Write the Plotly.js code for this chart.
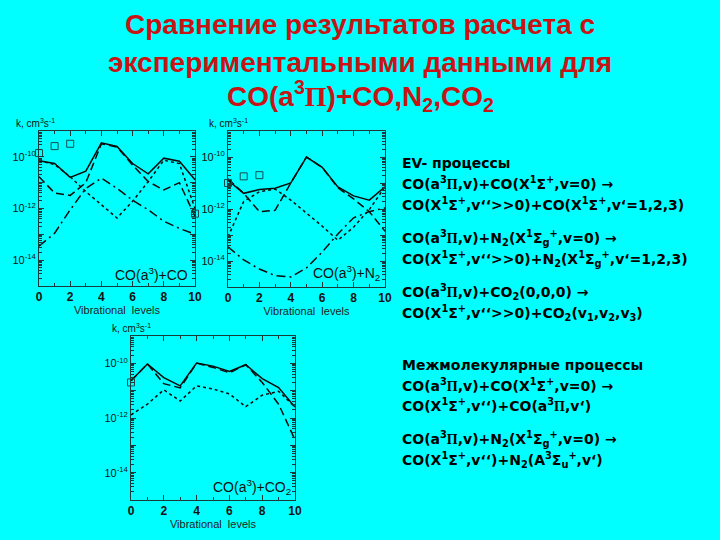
<!DOCTYPE html>
<html><head><meta charset="utf-8">
<script src="https://cdn.plot.ly/plotly-3.0.1.min.js"></script>
<style>html,body{margin:0;padding:0;background:#00ffff}</style>
</head><body><div id="chart" style="width:720px;height:540px"></div>
<script>
// ---- data (rate constants k, cm^3 s^-1 vs vibrational level v) ----
const levels = [0,1,2,3,4,5,6,7,8,9,10];
const expLevels = [0,1,2];

// CO(a3)+CO
const co_total   = [7.1e-11,5.5e-11,1.6e-11,2.8e-11,3.5e-10,2.5e-10,5.5e-11,2.2e-11,8.9e-11,6.8e-11,1.3e-11];
const co_ev      = [7.1e-11,5.0e-11,1.7e-11,4.5e-12,1.4e-12,4.3e-13,1.9e-12,1.1e-11,7.4e-11,5.5e-11,1.0e-12];
const co_inter   = [1.7e-11,4.0e-12,3.2e-12,1.0e-11,3.2e-10,2.4e-10,4.8e-11,1.1e-11,5.2e-12,1.0e-11,5.0e-13];
const co_other   = [3.5e-14,1.1e-13,8.9e-13,6.0e-12,1.5e-11,6.0e-12,2.1e-12,8.9e-13,3.2e-13,1.7e-13,1.0e-13];
const co_expX    = [0,1,2,10];
const co_exp     = [1.4e-10,2.6e-10,3.2e-10,6.3e-13];

// CO(a3)+N2
const n2_total   = [1.26e-11,4.0e-12,5.6e-12,6.3e-12,1.0e-11,1.0e-10,4.0e-11,7.1e-12,3.2e-12,2.2e-12,7.1e-12];
const n2_ev      = [8.5e-14,1.95e-12,4.6e-12,5.8e-12,2.2e-12,7.1e-13,2.2e-13,6.3e-14,2.0e-13,9.5e-13,7.1e-12];
const n2_inter   = [1.45e-11,4.0e-12,7.9e-13,8.9e-13,1.0e-11,1.0e-10,4.0e-11,6.5e-12,2.45e-12,7.9e-13,1.4e-13];
const n2_other   = [3.5e-14,1.1e-14,4.9e-15,2.75e-15,2.45e-15,5.4e-15,2.2e-14,1.1e-13,4.6e-13,7.9e-13,1.1e-12];
const n2_exp     = [1.0e-11,1.8e-11,2.0e-11];

// CO(a3)+CO2
const co2_total  = [2.3e-11,9.5e-11,3.0e-11,1.5e-11,1.02e-10,7.9e-11,5.0e-11,8.9e-11,2.75e-11,1.3e-11,2.5e-12];
const co2_ev     = [1.3e-12,3.2e-12,1.07e-11,4.2e-12,1.5e-11,1.15e-11,7.6e-12,2.6e-12,6.8e-12,9.5e-12,2.5e-12];
const co2_inter  = [2.3e-11,9.5e-11,1.8e-11,1.26e-11,1.02e-10,7.1e-11,4.5e-11,8.9e-11,2.0e-11,3.2e-12,1.6e-13];
const co2_expX   = [0];
const co2_exp    = [2.0e-11];

const xTickVals = [0,2,4,6,8,10];
const yTickVals = [1e-15,1e-14,1e-13,1e-12,1e-11,1e-10,1e-9];
const yTickText = ['','10<sup>-14</sup>','','10<sup>-12</sup>','','10<sup>-10</sup>',''];

// ---- styles ----
const BLACK = '#0a0a0a';
const DASH = {total:'solid', ev:'3px,3px', inter:'8px,4px', other:'9px,4px,2px,4px'};
function line(x, y, kind, ax) {
  return {x:x, y:y, type:'scatter', mode:'lines', xaxis:'x'+ax, yaxis:'y'+ax,
    line:{color:BLACK, width:1.5, dash:DASH[kind]}, showlegend:false, hoverinfo:'skip'};
}
function pts(x, y, ax) {
  return {x:x, y:y, type:'scatter', mode:'markers', xaxis:'x'+ax, yaxis:'y'+ax, cliponaxis:false,
    marker:{symbol:'square-open', size:7, color:'#1d4a4a', line:{width:1}}, showlegend:false, hoverinfo:'skip'};
}

const traces = [
  line(levels, co_total,'total',''), line(levels, co_ev,'ev',''), line(levels, co_inter,'inter',''), line(levels, co_other,'other',''), pts(co_expX, co_exp,''),
  line(levels, n2_total,'total','2'), line(levels, n2_ev,'ev','2'), line(levels, n2_inter,'inter','2'), line(levels, n2_other,'other','2'), pts(expLevels, n2_exp,'2'),
  line(levels, co2_total,'total','3'), line(levels, co2_ev,'ev','3'), line(levels, co2_inter,'inter','3'), pts(co2_expX, co2_exp,'3')
];

const minorY = [];
for (let e=-15; e<-9; e++) for (let m=2; m<10; m++) minorY.push(m*Math.pow(10,e));

const AXC = '#1b3b3b';
const SANS = 'Liberation Sans, Arial, sans-serif';
function xax(domain, anchor) {
  return {domain:domain, anchor:anchor, range:[0,10], tickvals:xTickVals, ticks:'inside', ticklen:5,
    tickcolor:AXC, mirror:'allticks', showline:true, linecolor:AXC, linewidth:1, showgrid:false, zeroline:false,
    tickfont:{family:SANS, size:12, color:'#111', weight:'bold'}, minor:{dtick:1, ticks:'inside', ticklen:3, tickcolor:AXC},
    title:{text:'Vibrational  levels', font:{family:SANS, size:11, color:'#222'}, standoff:1}};
}
function yax(domain, anchor) {
  return {domain:domain, anchor:anchor, type:'log', range:[-15,-9], tickvals:yTickVals, ticktext:yTickText,
    ticks:'inside', ticklen:5, tickcolor:AXC, mirror:'allticks', showline:true, linecolor:AXC, linewidth:1,
    showgrid:false, zeroline:false, tickfont:{family:SANS, size:11, color:'#111'},
    minor:{tickvals:minorY, ticks:'inside', ticklen:3, tickcolor:AXC}};
}
const W=720, H=540;
const px = v => v/W, py = v => 1 - v/H;

const PI = "<span style='font-family:Liberation Serif, serif'>Π</span>";
const bodyFont = {family:'DejaVu Sans, sans-serif', size:14, color:'#000'};
function ann(text, x, y, opts) {
  return Object.assign({text:text, x:px(x), y:py(y), xref:'paper', yref:'paper', showarrow:false,
    xanchor:'left', yanchor:'middle', align:'left', font:bodyFont}, opts||{});
}
const titleFont = {family:SANS, size:28, color:'#c81414'};
const smallFont = {family:SANS, size:10, color:'#111'};
const labFont = {family:SANS, size:14, color:'#111'};

const annotations = [
  ann('<b>Сравнение результатов расчета с</b>', 360, 25, {xanchor:'center', font:titleFont}),
  ann('<b>экспериментальными данными для</b>', 360, 62, {xanchor:'center', font:titleFont}),
  ann('<b>CO(a<sup>3</sup>'+PI+')+CO,N<sub>2</sub>,CO<sub>2</sub></b>', 360, 96, {xanchor:'center', font:titleFont}),

  ann('k, cm<sup>3</sup>s<sup>-1</sup>', 14, 123, {font:smallFont}),
  ann('k, cm<sup>3</sup>s<sup>-1</sup>', 207, 123, {font:smallFont}),
  ann('k, cm<sup>3</sup>s<sup>-1</sup>', 110, 328, {font:smallFont}),

  ann('CO(a<sup>3</sup>)+CO', 190, 274, {xanchor:'right', font:labFont}),
  ann('CO(a<sup>3</sup>)+N<sub>2</sub>', 382, 273, {xanchor:'right', font:labFont}),
  ann('CO(a<sup>3</sup>)+CO<sub>2</sub>', 293, 487, {xanchor:'right', font:labFont}),

  ann('<b>EV- процессы</b>', 400, 163),
  ann('<b>CO(a<sup>3</sup>'+PI+',v)+CO(X<sup>1</sup>Σ<sup>+</sup>,v=0) →</b>', 400, 183),
  ann('<b>CO(X<sup>1</sup>Σ<sup>+</sup>,v‘‘>>0)+CO(X<sup>1</sup>Σ<sup>+</sup>,v‘=1,2,3)</b>', 400, 204),
  ann('<b>CO(a<sup>3</sup>'+PI+',v)+N<sub>2</sub>(X<sup>1</sup>Σ<sub>g</sub><sup>+</sup>,v=0) →</b>', 400, 238),
  ann('<b>CO(X<sup>1</sup>Σ<sup>+</sup>,v‘‘>>0)+N<sub>2</sub>(X<sup>1</sup>Σ<sub>g</sub><sup>+</sup>,v‘=1,2,3)</b>', 400, 259),
  ann('<b>CO(a<sup>3</sup>'+PI+',v)+CO<sub>2</sub>(0,0,0) →</b>', 400, 292),
  ann('<b>CO(X<sup>1</sup>Σ<sup>+</sup>,v‘‘>>0)+CO<sub>2</sub>(v<sub>1</sub>,v<sub>2</sub>,v<sub>3</sub>)</b>', 400, 313),

  ann('<b>Межмолекулярные процессы</b>', 400, 365),
  ann('<b>CO(a<sup>3</sup>'+PI+',v)+CO(X<sup>1</sup>Σ<sup>+</sup>,v=0) →</b>', 400, 385),
  ann('<b>CO(X<sup>1</sup>Σ<sup>+</sup>,v‘‘)+CO(a<sup>3</sup>'+PI+',v‘)</b>', 400, 405),
  ann('<b>CO(a<sup>3</sup>'+PI+',v)+N<sub>2</sub>(X<sup>1</sup>Σ<sub>g</sub><sup>+</sup>,v=0) →</b>', 400, 439),
  ann('<b>CO(X<sup>1</sup>Σ<sup>+</sup>,v‘‘)+N<sub>2</sub>(A<sup>3</sup>Σ<sub>u</sub><sup>+</sup>,v‘)</b>', 400, 460)
];

const layout = {
  width:W, height:H, margin:{l:0,r:0,t:0,b:0},
  paper_bgcolor:'#00ffff', plot_bgcolor:'#00ffff', showlegend:false,
  xaxis: xax([px(39), px(195)], 'y'),  yaxis: yax([py(286), py(131)], 'x'),
  xaxis2: xax([px(228), px(385)], 'y2'), yaxis2: yax([py(287), py(131)], 'x2'),
  xaxis3: xax([px(131), px(295)], 'y3'), yaxis3: yax([py(500), py(336)], 'x3'),
  annotations: annotations
};
Plotly.newPlot('chart', traces, layout, {staticPlot:true, displayModeBar:false});
</script></body></html>
